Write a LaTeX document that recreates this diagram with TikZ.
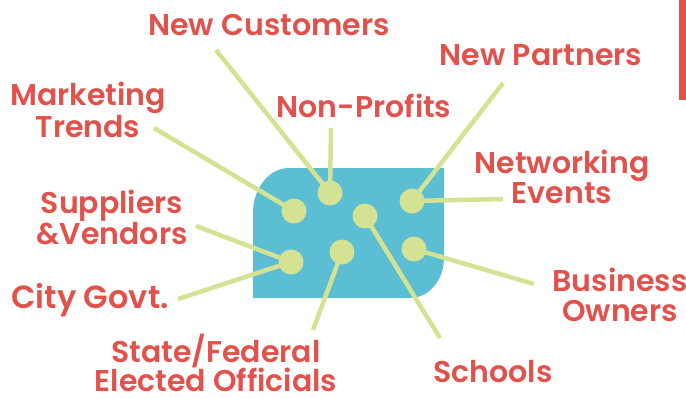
\documentclass[tikz,border=0pt]{standalone}
\usepackage{fontspec}
\setmainfont{Poppins}[UprightFont=* SemiBold]
\definecolor{labred}{HTML}{E0524B}
\definecolor{boxblue}{HTML}{5CBED3}
\definecolor{dotgreen}{HTML}{D4E293}
\tikzset{
  lab/.style={text=labred,font=\fontsize{30}{29.5}\selectfont,align=center,inner sep=0pt},
  link/.style={draw=dotgreen,line width=4.5pt},
  dot/.style={circle,fill=dotgreen,minimum size=25pt,inner sep=0pt}
}
\begin{document}
\begin{tikzpicture}[x=1pt,y=-1pt]
\useasboundingbox (0,0) rectangle (686,399);
% red bar
\fill[labred] (679,0) rectangle (686,100);
% blue box
\fill[boxblue] (253,298) -- (253,213) arc[start angle=180,end angle=270,x radius=36,y radius=45]
  -- (444,168) -- (444,258) arc[start angle=0,end angle=90,x radius=34,y radius=40] -- cycle;
% dot centres
\coordinate (cA) at (294,211);
\coordinate (cB) at (330,193);
\coordinate (cC) at (365,216);
\coordinate (cD) at (412,201);
\coordinate (cE) at (414,249);
\coordinate (cF) at (342,252);
\coordinate (cG) at (291,262);
% free ends
\coordinate (eMkt) at (154,128);
\coordinate (eNC) at (216,50);
\coordinate (eNP) at (331,128);
\coordinate (ePart) at (503,83);
\coordinate (eNet) at (503,199);
\coordinate (eBus) at (534,284);
\coordinate (eSch) at (440,338);
\coordinate (eSt) at (313,330);
\coordinate (eSup) at (196,226);
\coordinate (eCity) at (178,299);
% links
\draw[link] (eMkt) -- (cA);
\draw[link] (eNC) -- (cB);
\draw[link] (eNP) -- (cB);
\draw[link] (ePart) -- (cD);
\draw[link] (eNet) -- (cD);
\draw[link] (eBus) -- (cE);
\draw[link] (eSch) -- (cC);
\draw[link] (eSt) -- (cF);
\draw[link] (eSup) -- (cG);
\draw[link] (eCity) -- (cG);
% dots
\node[dot] (dA) at (cA) {};
\node[dot] (dB) at (cB) {};
\node[dot] (dC) at (cC) {};
\node[dot] (dD) at (cD) {};
\node[dot] (dE) at (cE) {};
\node[dot] (dF) at (cF) {};
\node[dot] (dG) at (cG) {};
% labels
\node[lab,anchor=base] (lNC) at (269,35) {New Customers};
\node[lab,anchor=base] (lNP) at (364,117) {Non-Profits};
\node[lab,anchor=base] (lPart) at (541,65) {New Partners};
\node[lab] (lMkt) at (88,110) {Marketing\\Trends};
\node[lab] (lNet) at (562,177) {Networking\\Events};
\node[lab] (lSup) at (112,217) {Suppliers\\\&Vendors};
\node[lab,anchor=base,font=\fontsize{32}{32}\selectfont] (lCity) at (90,308) {City Govt.};
\node[lab] (lBus) at (620,295) {Business\\Owners};
\node[lab] (lSt) at (216,363) {State/Federal\\Elected Officials};
\node[lab,anchor=base] (lSch) at (493,382) {Schools};
\end{tikzpicture}
\end{document}
